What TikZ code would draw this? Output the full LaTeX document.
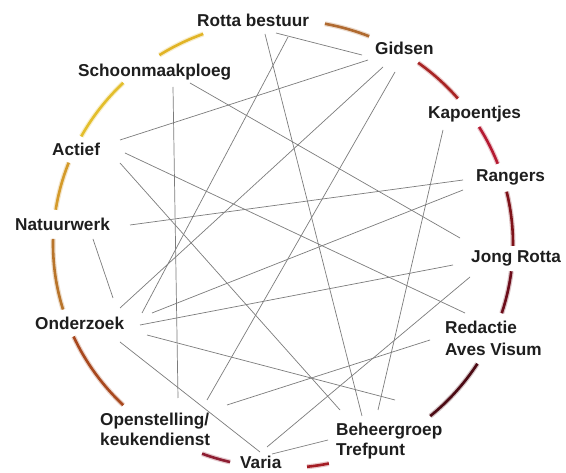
\documentclass[tikz,border=0pt]{standalone}
\usepackage{fontspec}
\setmainfont{Liberation Sans}
\definecolor{txt}{HTML}{1E1E1E}
\definecolor{lnc}{HTML}{7C7C7C}
\definecolor{aA}{HTML}{B06A30}
\definecolor{aB}{HTML}{A82424}
\definecolor{aC}{HTML}{B51A32}
\definecolor{aD}{HTML}{7E1219}
\definecolor{aE}{HTML}{6C0C1A}
\definecolor{aF}{HTML}{4C0A14}
\definecolor{aG}{HTML}{A41C24}
\definecolor{aH}{HTML}{8E1E32}
\definecolor{aI}{HTML}{A8481E}
\definecolor{aJ}{HTML}{B8742A}
\definecolor{aK}{HTML}{D49A2A}
\definecolor{aL}{HTML}{E3BE2C}
\definecolor{aM}{HTML}{E1B426}
\newcommand{\ringarc}[3]{%
  \draw[line width=5pt,#3!45!white,opacity=.55] ([shift={(#1:230 and 224)}]283,244) arc[start angle=#1,end angle=#2,x radius=230,y radius=224];
  \draw[line width=2.6pt,#3] ([shift={(#1:230 and 224)}]283,244) arc[start angle=#1,end angle=#2,x radius=230,y radius=224];}
\begin{document}
\begin{tikzpicture}[x=1pt,y=-1pt,
  lbl/.style={font=\fontsize{17.2}{20}\selectfont\bfseries, text=txt, inner sep=0pt, anchor=base west, align=left},
  link/.style={draw=lnc, line width=0.7pt}]
\useasboundingbox[fill=white] (0,0) rectangle (566,473);
% ring
\ringarc{-79.5}{-68}{aA}
\ringarc{-54}{-40.5}{aB}
\ringarc{-31.5}{-21}{aC}
\ringarc{-13.5}{0.5}{aD}
\ringarc{7}{18}{aE}
\ringarc{32.3}{50.2}{aF}
\ringarc{78.5}{84}{aG}
\ringarc{103.3}{110.6}{aH}
\ringarc{134}{155.6}{aI}
\ringarc{163}{181.3}{aJ}
\ringarc{188.8}{201.3}{aK}
\ringarc{208.7}{226}{aL}
\ringarc{237.5}{249.7}{aM}
% labels (multi-line nodes: base = last line)
\node[lbl] (rb) at (197,27) {Rotta bestuur};
\node[lbl] (gi) at (375,55) {Gidsen};
\node[lbl] (ka) at (428,119) {Kapoentjes};
\node[lbl] (ra) at (476,182) {Rangers};
\node[lbl] (jr) at (471,263) {Jong Rotta};
\node[lbl, font=\fontsize{17.2}{22}\selectfont\bfseries] (re) at (445,356) {Redactie\\Aves Visum};
\node[lbl] (be) at (336,456) {Beheergroep\\Trefpunt};
\node[lbl] (va) at (240,469) {Varia};
\node[lbl] (op) at (100,446) {Openstelling/\\keukendienst};
\node[lbl] (on) at (35,330) {Onderzoek};
\node[lbl] (na) at (15,231) {Natuurwerk};
\node[lbl] (ac) at (52,156) {Actief};
\node[lbl] (sc) at (78,77) {Schoonmaakploeg};
% connector ends
\coordinate (rbA) at (276,33); \coordinate (giA) at (362,55);
\coordinate (rbB) at (265,34); \coordinate (beA) at (362,416);
\coordinate (rbC) at (288,37); \coordinate (onA) at (142,313);
\coordinate (giB) at (368,60); \coordinate (acA) at (120,140);
\coordinate (giC) at (383,67); \coordinate (onB) at (120,308);
\coordinate (giD) at (395,72); \coordinate (opA) at (207,400);
\coordinate (scA) at (173,87); \coordinate (opB) at (178,398);
\coordinate (scB) at (190,83); \coordinate (jrA) at (460,238);
\coordinate (acB) at (125,153); \coordinate (reA) at (465,313);
\coordinate (acC) at (120,163); \coordinate (beB) at (340,410);
\coordinate (naA) at (130,225); \coordinate (raA) at (463,180);
\coordinate (naB) at (93,239); \coordinate (onC) at (113,298);
\coordinate (raB) at (463,190); \coordinate (onD) at (152,313);
\coordinate (jrB) at (453,265); \coordinate (onE) at (140,325);
\coordinate (onF) at (147,335); \coordinate (beC) at (395,400);
\coordinate (onG) at (120,342); \coordinate (vaA) at (260,452);
\coordinate (kaA) at (443,130); \coordinate (beD) at (378,410);
\coordinate (reB) at (430,340); \coordinate (opC) at (227,405);
\coordinate (jrC) at (470,277); \coordinate (vaB) at (267,447);
\coordinate (vaC) at (272,454); \coordinate (beE) at (328,440);
% connectors
\draw[link] (rbA) -- (giA);
\draw[link] (rbB) -- (beA);
\draw[link] (rbC) -- (onA);
\draw[link] (giB) -- (acA);
\draw[link] (giC) -- (onB);
\draw[link] (giD) -- (opA);
\draw[link] (scA) -- (opB);
\draw[link] (scB) -- (jrA);
\draw[link] (acB) -- (reA);
\draw[link] (acC) -- (beB);
\draw[link] (naA) -- (raA);
\draw[link] (naB) -- (onC);
\draw[link] (raB) -- (onD);
\draw[link] (jrB) -- (onE);
\draw[link] (onF) -- (beC);
\draw[link] (onG) -- (vaA);
\draw[link] (kaA) -- (beD);
\draw[link] (reB) -- (opC);
\draw[link] (jrC) -- (vaB);
\draw[link] (vaC) -- (beE);
\end{tikzpicture}
\end{document}
